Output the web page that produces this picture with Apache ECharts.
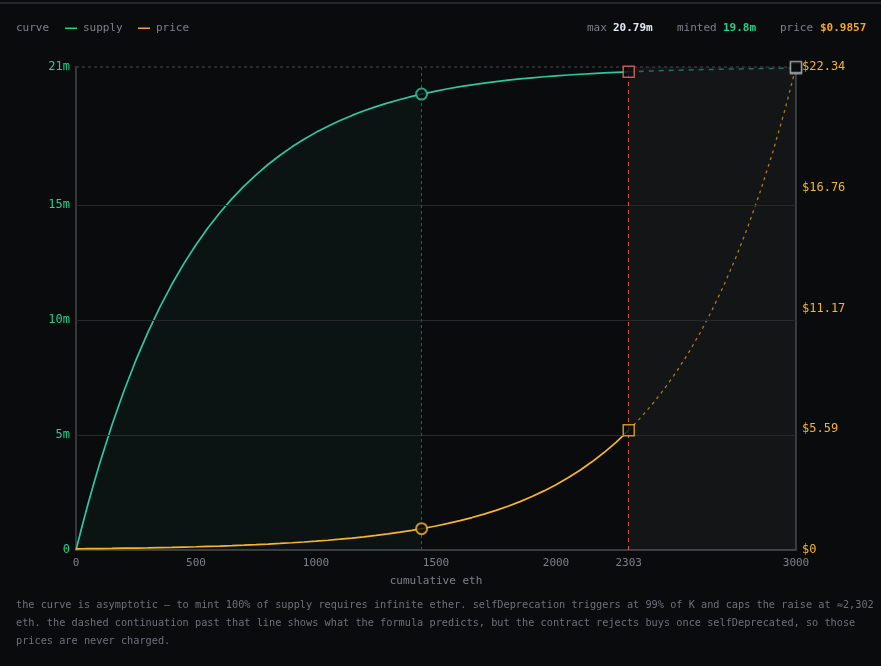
<!DOCTYPE html>
<html>
<head>
<meta charset="utf-8">
<script src="https://cdn.jsdelivr.net/npm/echarts@6/dist/echarts.min.js"></script>
<style>
html,body{margin:0;padding:0;background:#0a0b0d;}
#c{width:881px;height:666px;}
</style>
</head>
<body>
<div id="c"></div>
<script>
// ---- data ----
const ethSolid = [0,25,50,75,100,150,200,250,300,350,400,450,500,550,600,650,700,750,800,850,900,950,1000,1050,1100,1150,1200,1250,1300,1350,1400,1440,1450,1500,1550,1600,1650,1700,1750,1800,1850,1900,1950,2000,2050,2100,2150,2200,2250,2300,2303];
const supplySolid = [0,1.024,1.998,2.925,3.807,5.443,6.923,8.263,9.475,10.572,11.564,12.462,13.275,14.010,14.675,15.277,15.821,16.314,16.760,17.164,17.529,17.859,18.158,18.428,18.673,18.895,19.095,19.276,19.440,19.589,19.723,19.821,19.845,19.954,20.054,20.144,20.225,20.299,20.366,20.426,20.481,20.530,20.575,20.615,20.652,20.685,20.715,20.742,20.767,20.789,20.790];
const priceSolid = [0.0554,0.0582,0.0612,0.0643,0.0676,0.0747,0.0826,0.0913,0.1009,0.1115,0.1232,0.1361,0.1505,0.1663,0.1838,0.2031,0.2245,0.2481,0.2742,0.3030,0.3349,0.3701,0.4090,0.4520,0.4995,0.5521,0.6101,0.6743,0.7452,0.8236,0.9102,0.9857,1.0059,1.1117,1.2287,1.3579,1.5007,1.6585,1.8329,2.0257,2.2388,2.4742,2.7344,3.0220,3.3398,3.6911,4.0793,4.5083,4.9824,5.5065,5.537];
const ethDashed = [2303,2350,2400,2450,2500,2550,2600,2650,2700,2750,2800,2850,2900,2950,3000];
const supplyDashed = [20.790,20.809,20.827,20.844,20.859,20.872,20.884,20.895,20.905,20.914,20.922,20.930,20.936,20.942,20.948];
const priceDashed = [5.537,6.0856,6.7256,7.4329,8.2147,9.0786,10.0334,11.0886,12.2548,13.5437,14.9681,16.5423,18.2821,20.2048,22.34];

const currentEth = 1440, currentSupply = 19.821, currentPrice = 0.9857;
const capEth = 2303, capSupply = 20.790, capPrice = 5.537;
const endEth = 3000, endSupply = 20.948, endPrice = 22.34;

const xTicks = [0,500,1000,1500,2000,2303,3000];
const supplyTicks = [0,5,10,15,21];
const supplyGrid = [5,10,15];
const priceTicks = [0,5.59,11.17,16.76,22.34];

const statMax = '20.79m', statMinted = '19.8m', statPrice = '$0.9857';
const noteText = 'the curve is asymptotic \u2014 to mint 100% of supply requires infinite ether. selfDeprecation triggers at 99% of K and caps the raise at \u22482,302\neth. the dashed continuation past that line shows what the formula predicts, but the contract rejects buys once selfDeprecated, so those\nprices are never charged.';

// ---- build ----
const pair = (xs, ys) => xs.map((x, i) => [x, ys[i]]);
const fillEnd = ethSolid.indexOf(currentEth) + 1;

const MONO = '"DejaVu Sans Mono", monospace';
const GREEN = '#2ec79f', ORANGE = '#f6b52a', BG = '#0a0b0d';
const GRAY = '#7b808a';

const chart = echarts.init(document.getElementById('c'), null, {renderer: 'canvas'});
chart.setOption({
  backgroundColor: BG,
  animation: false,
  textStyle: {fontFamily: MONO},
  grid: {left: 76, right: 85, top: 67, bottom: 116, containLabel: false},
  xAxis: {
    type: 'value', min: 0, max: 3000,
    axisLine: {show: true, lineStyle: {color: '#3a3c40', width: 2}},
    axisTick: {show: false},
    splitLine: {show: false},
    axisLabel: {customValues: xTicks, color: GRAY, fontSize: 11, fontFamily: MONO, margin: 8,
      formatter: v => String(v)},
    name: 'cumulative eth', nameLocation: 'middle', nameGap: 26,
    nameTextStyle: {color: GRAY, fontSize: 11, fontFamily: MONO}
  },
  yAxis: [{
    type: 'value', min: 0, max: 21, position: 'left',
    axisLine: {show: true, lineStyle: {color: '#35373b', width: 2}},
    axisTick: {show: false},
    splitLine: {show: false},
    axisLabel: {customValues: supplyTicks, color: '#22d08c', fontSize: 12, fontFamily: MONO, margin: 6,
      formatter: v => v === 0 ? '0' : v + 'm'}
  }, {
    type: 'value', min: 0, max: 22.34, position: 'right',
    axisLine: {show: true, lineStyle: {color: '#35373b', width: 2}},
    axisTick: {show: false},
    splitLine: {show: false},
    axisLabel: {customValues: priceTicks, color: ORANGE, fontSize: 12, fontFamily: MONO, margin: 6,
      formatter: v => '$' + (v === 0 ? '0' : v.toFixed(2))}
  }],
  series: [
    {
      name: 'fill', type: 'line', yAxisIndex: 0, data: pair(ethSolid, supplySolid).slice(0, fillEnd),
      showSymbol: false, silent: true,
      lineStyle: {width: 0}, areaStyle: {color: 'rgba(46,199,159,0.065)'},
      markArea: {silent: true, itemStyle: {color: 'rgba(255,255,255,0.045)'},
        data: [[{xAxis: capEth}, {xAxis: endEth}]]},
      markLine: {silent: true, symbol: 'none', label: {show: false},
        data: supplyGrid.map(v => ({yAxis: v, lineStyle: {color: '#27292d', type: 'solid', width: 1}}))
          .concat([{yAxis: 21, lineStyle: {color: '#34363a', type: [3, 3], width: 1.5}}])}
    },
    {
      name: 'supply', type: 'line', yAxisIndex: 0, data: pair(ethSolid, supplySolid),
      showSymbol: false, color: GREEN,
      lineStyle: {color: GREEN, width: 1.7},
      markLine: {silent: true, symbol: 'none', label: {show: false},
        data: [
          {xAxis: currentEth, lineStyle: {color: '#4a4c50', type: [3, 3], width: 1}},
          {xAxis: capEth, lineStyle: {color: '#e05252', type: [4, 4], width: 1}}
        ]}
    },
    {
      name: 'supplyDashed', type: 'line', yAxisIndex: 0, data: pair(ethDashed, supplyDashed),
      showSymbol: false, silent: true,
      lineStyle: {color: '#1f6f5b', width: 1.5, type: [5, 5]}
    },
    {
      name: 'price', type: 'line', yAxisIndex: 1, data: pair(ethSolid, priceSolid),
      showSymbol: false, color: ORANGE,
      lineStyle: {color: ORANGE, width: 1.7}
    },
    {
      name: 'priceDashed', type: 'line', yAxisIndex: 1, data: pair(ethDashed, priceDashed),
      showSymbol: false, silent: true,
      lineStyle: {color: '#a67b1f', width: 1.3, type: [3, 4]}
    },
    {
      type: 'scatter', yAxisIndex: 0, symbol: 'circle', symbolSize: 11, z: 5,
      data: [[currentEth, currentSupply]],
      itemStyle: {color: BG, borderColor: GREEN, borderWidth: 2}
    },
    {
      type: 'scatter', yAxisIndex: 1, symbol: 'circle', symbolSize: 11, z: 5,
      data: [[currentEth, currentPrice]],
      itemStyle: {color: BG, borderColor: ORANGE, borderWidth: 2}
    },
    {
      type: 'scatter', yAxisIndex: 0, symbol: 'rect', symbolSize: 11, z: 5,
      data: [[capEth, capSupply]],
      itemStyle: {color: BG, borderColor: '#ef6b6b', borderWidth: 1.5}
    },
    {
      type: 'scatter', yAxisIndex: 1, symbol: 'rect', symbolSize: 11, z: 5,
      data: [[capEth, capPrice]],
      itemStyle: {color: BG, borderColor: ORANGE, borderWidth: 1.5}
    },
    {
      type: 'scatter', yAxisIndex: 0, symbol: 'rect', symbolSize: 11, z: 5,
      data: [[endEth, endSupply]],
      itemStyle: {color: BG, borderColor: '#a9abb0', borderWidth: 1.5}
    },
    {
      type: 'scatter', yAxisIndex: 1, symbol: 'rect', symbolSize: 11, z: 6,
      data: [[endEth, endPrice]],
      itemStyle: {color: BG, borderColor: '#a9abb0', borderWidth: 1.5}
    }
  ],
  graphic: [
    {type: 'rect', shape: {x: 0, y: 2, width: 881, height: 2}, style: {fill: '#25262a'}, silent: true},
    {type: 'text', x: 16, y: 28, style: {text: 'curve', fill: GRAY, font: '11px ' + MONO, textVerticalAlign: 'middle'}},
    {type: 'rect', shape: {x: 65, y: 27.5, width: 12, height: 1.5}, style: {fill: '#1fd38a'}},
    {type: 'text', x: 83, y: 28, style: {text: 'supply', fill: GRAY, font: '11px ' + MONO, textVerticalAlign: 'middle'}},
    {type: 'rect', shape: {x: 138, y: 27.5, width: 12, height: 1.5}, style: {fill: '#f5a623'}},
    {type: 'text', x: 156, y: 28, style: {text: 'price', fill: GRAY, font: '11px ' + MONO, textVerticalAlign: 'middle'}},
    {type: 'text', x: 587, y: 28, style: {text: 'max', fill: GRAY, font: '11px ' + MONO, textVerticalAlign: 'middle'}},
    {type: 'text', x: 613, y: 28, style: {text: statMax, fill: '#e3ebf5', font: 'bold 11px ' + MONO, textVerticalAlign: 'middle'}},
    {type: 'text', x: 677, y: 28, style: {text: 'minted', fill: GRAY, font: '11px ' + MONO, textVerticalAlign: 'middle'}},
    {type: 'text', x: 723, y: 28, style: {text: statMinted, fill: '#23d18b', font: 'bold 11px ' + MONO, textVerticalAlign: 'middle'}},
    {type: 'text', x: 780, y: 28, style: {text: 'price', fill: GRAY, font: '11px ' + MONO, textVerticalAlign: 'middle'}},
    {type: 'text', x: 820, y: 28, style: {text: statPrice, fill: '#f5a524', font: 'bold 11px ' + MONO, textVerticalAlign: 'middle'}},
    {type: 'text', x: 16, y: 596, style: {text: noteText, fill: '#6c717a', font: '10.25px ' + MONO, lineHeight: 18}}
  ]
});
</script>
</body>
</html>
